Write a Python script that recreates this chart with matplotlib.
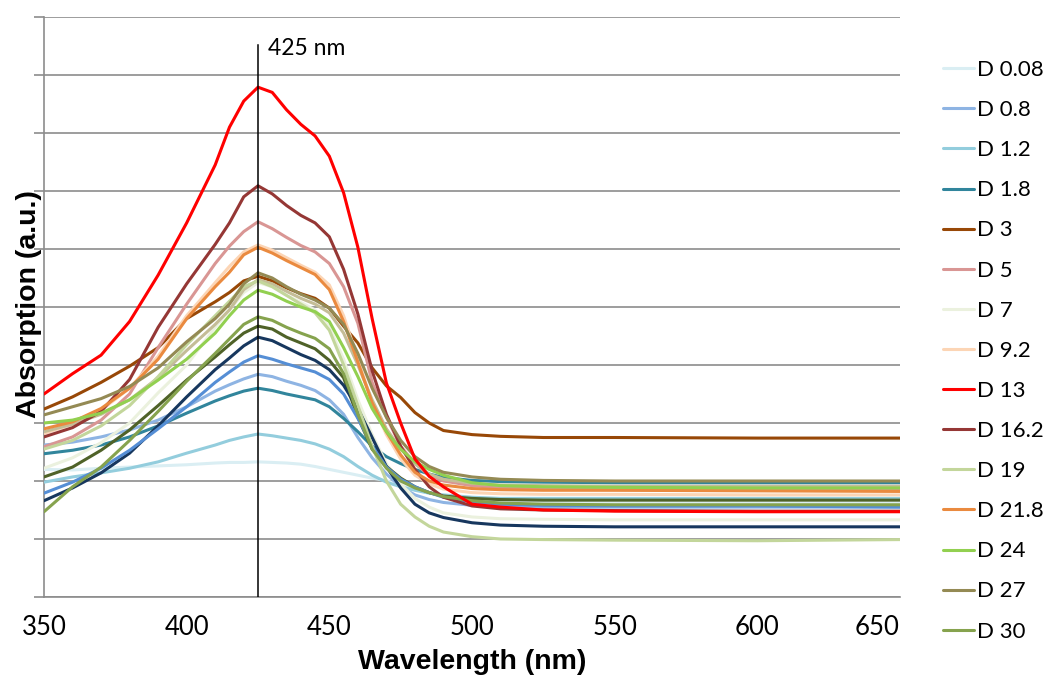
import matplotlib
matplotlib.use("Agg")
import matplotlib.pyplot as plt

# wavelengths (nm)
wl = [350, 360, 370, 380, 390, 400, 410, 415, 420, 425, 430, 435, 440, 445, 450,
      455, 460, 465, 470, 475, 480, 485, 490, 500, 510, 525, 550, 600, 650]

# absorption (a.u.)
d0_08 = [2.20, 2.19, 2.22, 2.24, 2.26, 2.28, 2.31, 2.32, 2.32, 2.33, 2.32, 2.31, 2.29, 2.25, 2.20,
         2.15, 2.10, 2.05, 2.01, 1.92, 1.85, 1.80, 1.74, 1.68, 1.65, 1.63, 1.62, 1.62, 1.62]
d0_8 = [2.62, 2.67, 2.76, 2.88, 3.05, 3.28, 3.55, 3.66, 3.76, 3.84, 3.80, 3.72, 3.65, 3.56, 3.40,
        3.15, 2.75, 2.40, 2.12, 1.90, 1.76, 1.68, 1.63, 1.58, 1.56, 1.55, 1.55, 1.55, 1.55]
d1_2 = [1.98, 2.07, 2.14, 2.22, 2.33, 2.48, 2.62, 2.70, 2.76, 2.81, 2.78, 2.74, 2.70, 2.64, 2.55,
        2.42, 2.25, 2.10, 1.98, 1.90, 1.84, 1.79, 1.76, 1.72, 1.70, 1.70, 1.70, 1.70, 1.70]
d1_8 = [2.47, 2.53, 2.62, 2.76, 2.95, 3.17, 3.38, 3.47, 3.55, 3.60, 3.56, 3.50, 3.45, 3.40, 3.28,
        3.08, 2.85, 2.60, 2.42, 2.30, 2.20, 2.12, 2.06, 2.01, 1.99, 1.98, 1.97, 1.97, 1.97]
d3 = [3.24, 3.45, 3.70, 3.98, 4.30, 4.80, 5.09, 5.25, 5.45, 5.53, 5.45, 5.33, 5.23, 5.15, 4.98,
      4.67, 4.38, 3.95, 3.64, 3.44, 3.18, 3.00, 2.87, 2.80, 2.77, 2.75, 2.75, 2.74, 2.74]
d5 = [2.59, 2.76, 3.05, 3.50, 4.30, 5.05, 5.75, 6.05, 6.30, 6.47, 6.35, 6.20, 6.06, 5.95, 5.75,
      5.35, 4.72, 3.70, 3.10, 2.60, 2.30, 2.10, 2.00, 1.92, 1.88, 1.86, 1.85, 1.85, 1.85]
d7 = [2.22, 2.40, 2.66, 3.00, 3.52, 4.00, 4.65, 4.95, 5.25, 5.42, 5.35, 5.20, 5.08, 4.95, 4.65,
      4.10, 3.40, 2.80, 2.30, 1.95, 1.70, 1.55, 1.45, 1.38, 1.35, 1.34, 1.33, 1.33, 1.33]
d9_2 = [2.82, 2.98, 3.22, 3.60, 4.15, 4.85, 5.42, 5.70, 5.95, 6.07, 5.98, 5.85, 5.72, 5.60, 5.38,
        4.85, 4.10, 3.35, 2.80, 2.38, 2.10, 1.95, 1.86, 1.80, 1.78, 1.77, 1.77, 1.76, 1.76]
d13 = [3.50, 3.85, 4.17, 4.75, 5.55, 6.45, 7.45, 8.10, 8.55, 8.79, 8.70, 8.40, 8.15, 7.95, 7.60,
       6.97, 6.03, 4.80, 3.69, 3.00, 2.38, 2.08, 1.90, 1.60, 1.55, 1.50, 1.48, 1.47, 1.47]
d16_2 = [2.76, 2.92, 3.20, 3.75, 4.65, 5.40, 6.08, 6.45, 6.90, 7.09, 6.95, 6.75, 6.58, 6.45, 6.21,
         5.65, 4.88, 3.90, 3.15, 2.60, 2.20, 1.90, 1.72, 1.57, 1.52, 1.50, 1.49, 1.48, 1.48]
d19 = [2.55, 2.70, 2.95, 3.30, 3.80, 4.35, 4.85, 5.10, 5.35, 5.45, 5.35, 5.20, 5.05, 4.90, 4.60,
       4.00, 3.30, 2.60, 2.00, 1.60, 1.38, 1.22, 1.12, 1.04, 1.00, 0.99, 0.98, 0.97, 0.99]
d21_8 = [2.90, 3.02, 3.25, 3.60, 4.10, 4.80, 5.35, 5.60, 5.90, 6.03, 5.93, 5.80, 5.68, 5.56, 5.30,
         4.75, 4.05, 3.35, 2.85, 2.45, 2.15, 2.00, 1.93, 1.87, 1.85, 1.84, 1.84, 1.83, 1.82]
d24 = [3.00, 3.05, 3.17, 3.40, 3.74, 4.10, 4.55, 4.85, 5.12, 5.29, 5.22, 5.10, 5.00, 4.92, 4.75,
       4.30, 3.80, 3.25, 2.85, 2.55, 2.33, 2.20, 2.10, 1.97, 1.92, 1.90, 1.89, 1.88, 1.88]
d27 = [3.14, 3.28, 3.42, 3.63, 3.95, 4.40, 4.80, 5.05, 5.40, 5.59, 5.50, 5.35, 5.22, 5.12, 4.98,
       4.70, 4.20, 3.60, 3.10, 2.70, 2.42, 2.25, 2.15, 2.07, 2.03, 2.01, 2.00, 2.00, 2.00]
d30 = [1.47, 1.90, 2.24, 2.70, 3.20, 3.72, 4.20, 4.45, 4.70, 4.83, 4.77, 4.65, 4.55, 4.46, 4.28,
       3.85, 3.15, 2.55, 2.22, 2.00, 1.88, 1.80, 1.73, 1.66, 1.62, 1.60, 1.59, 1.59, 1.59]
# series drawn but not listed in the legend
s_navy = [1.66, 1.88, 2.14, 2.48, 2.95, 3.45, 3.92, 4.12, 4.33, 4.48, 4.42, 4.30, 4.18, 4.08, 3.92,
          3.65, 3.25, 2.75, 2.25, 1.88, 1.60, 1.45, 1.37, 1.28, 1.24, 1.22, 1.21, 1.21, 1.21]
s_blue = [1.79, 1.98, 2.22, 2.53, 2.90, 3.28, 3.70, 3.88, 4.05, 4.16, 4.10, 4.02, 3.95, 3.88, 3.75,
          3.50, 3.08, 2.60, 2.24, 2.03, 1.90, 1.80, 1.72, 1.64, 1.60, 1.58, 1.57, 1.57, 1.55]
s_darkolive = [2.07, 2.24, 2.53, 2.88, 3.30, 3.74, 4.14, 4.35, 4.55, 4.67, 4.62, 4.48, 4.38, 4.28, 4.08,
               3.78, 3.10, 2.55, 2.25, 2.05, 1.90, 1.80, 1.74, 1.70, 1.68, 1.67, 1.67, 1.67, 1.67]
s_tan = [2.85, 2.98, 3.15, 3.40, 3.78, 4.25, 4.70, 4.95, 5.30, 5.47, 5.40, 5.27, 5.15, 5.05, 4.90,
         4.55, 4.00, 3.40, 2.90, 2.55, 2.30, 2.12, 2.03, 1.96, 1.93, 1.92, 1.91, 1.91, 1.91]

labels = ["D 0.08", "D 0.8", "D 1.2", "D 1.8", "D 3", "D 5", "D 7", "D 9.2",
          "D 13", "D 16.2", "D 19", "D 21.8", "D 24", "D 27", "D 30"]
series = [d0_08, d0_8, d1_2, d1_8, d3, d5, d7, d9_2, d13, d16_2, d19, d21_8, d24, d27, d30]
colors = ["#DAEEF3", "#8EB4E3", "#93CDDD", "#31859C", "#984807", "#D99694", "#EBF1DE",
          "#FCD5B5", "#FF0000", "#953735", "#C3D69B", "#EA8A3F", "#92D050", "#948A54", "#86A34E"]
extra = [s_tan, s_darkolive, s_navy, s_blue]
extra_colors = ["#C4BD97", "#4F6228", "#17375E", "#558ED5"]

W, H = 1048, 682
fig = plt.figure(figsize=(W / 100, H / 100), dpi=100)
ax = fig.add_axes([44 / W, 85 / H, 856 / W, 580 / H])

lw = 2.2
handles = []
for s, c, lab in zip(series[:8], colors[:8], labels[:8]):
    h, = ax.plot(wl, s, color=c, lw=lw, label=lab, solid_capstyle="round",
                 solid_joinstyle="round", zorder=3)
    handles.append(h)
for s, c in zip(extra, extra_colors):
    ax.plot(wl, s, color=c, lw=lw, solid_capstyle="round", solid_joinstyle="round", zorder=3)
for s, c, lab in zip(series[8:], colors[8:], labels[8:]):
    h, = ax.plot(wl, s, color=c, lw=lw, label=lab, solid_capstyle="round",
                 solid_joinstyle="round", zorder=4 if lab == "D 13" else 3)
    handles.append(h)

# 425 nm marker
ax.plot([425, 425], [0, 9.52], color="black", lw=1.1, zorder=5)
ax.text(428.6, 9.46, "425 nm", fontsize=16.5, family="Lato", va="center", ha="left")

ax.set_xlim(350, 650)
ax.set_ylim(0, 10)
ax.set_xticks(range(350, 651, 50))
ax.set_yticks(range(0, 11))
ax.set_yticklabels([])
ax.yaxis.grid(True, color="#8C8C8C", lw=1.2)
ax.set_axisbelow(True)
for sp in ["top", "right"]:
    ax.spines[sp].set_visible(False)
for sp in ["left", "bottom"]:
    ax.spines[sp].set_color("#8C8C8C")
    ax.spines[sp].set_linewidth(1.2)
ax.tick_params(axis="y", length=7, color="#8C8C8C", width=1.2)
ax.tick_params(axis="x", length=0, pad=13)
xt = ax.get_xticklabels()
for t in xt:
    t.set_family("Lato")
    t.set_fontsize(18.5)
xt[-1].set_ha("right")

fig.text(472 / W, 1 - 662 / H, "Wavelength (nm)", fontsize=20.5, fontweight="bold",
         family="Liberation Sans", ha="center", va="center")
fig.text(29 / W, 1 - 304 / H, "Absorption (a.u.)", fontsize=20.5, fontweight="bold",
         family="Liberation Sans", ha="center", va="center", rotation=90)

leg = fig.legend(handles=handles, labels=[h.get_label() for h in handles],
                 loc="upper left", bbox_to_anchor=(943 / W, 1 - 60 / H),
                 frameon=False, handlelength=1.4, handletextpad=0.12,
                 labelspacing=0.905, prop={"family": "Lato", "size": 16},
                 borderaxespad=0, borderpad=0)

fig.savefig("out.png", dpi=100)
